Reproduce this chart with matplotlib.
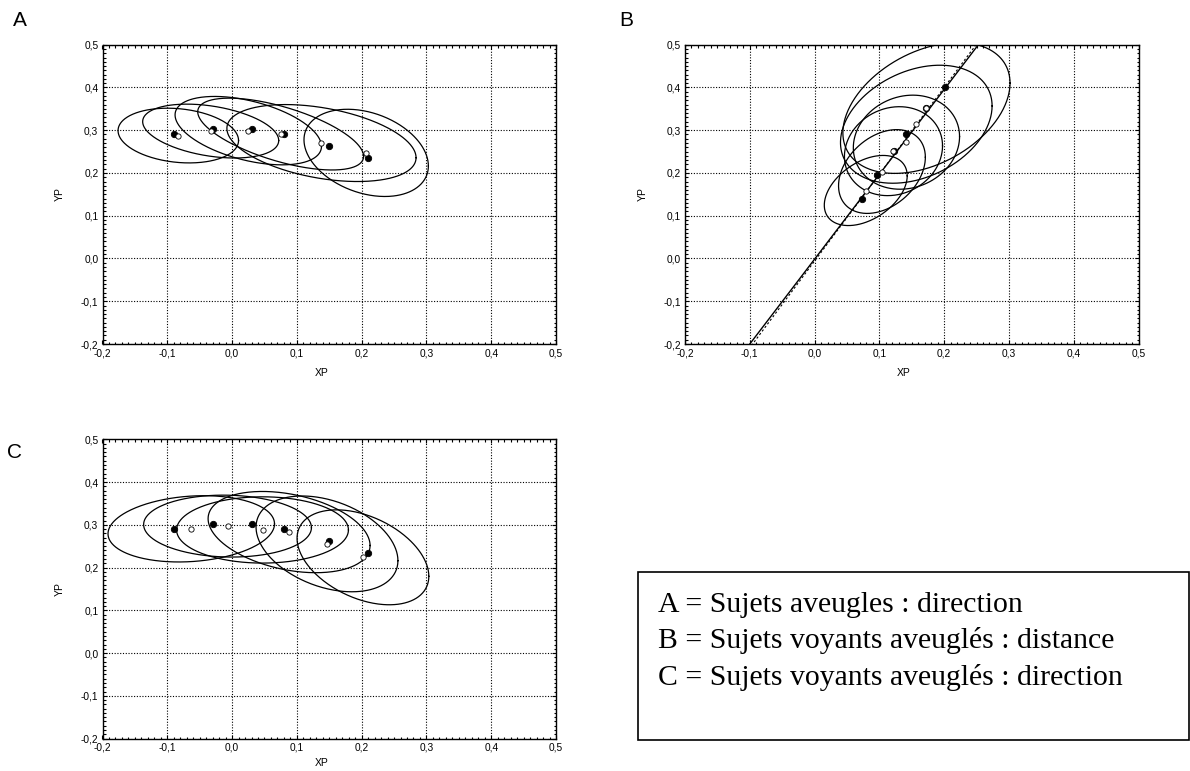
import matplotlib
matplotlib.use("Agg")
import matplotlib.pyplot as plt
import numpy as np
from matplotlib.ticker import MultipleLocator, FuncFormatter
from matplotlib.patches import Rectangle

plt.rcParams['font.family'] = ['Liberation Sans', 'DejaVu Sans']

# ---- data ----
# Panel A : blind subjects, direction
a_black_x = [-0.090, -0.030, 0.030, 0.080, 0.150, 0.210]
a_black_y = [0.291, 0.302, 0.302, 0.290, 0.262, 0.235]
a_white_x = [-0.083, -0.033, 0.025, 0.075, 0.138, 0.207]
a_white_y = [0.2875, 0.298, 0.299, 0.291, 0.270, 0.247]
a_sx = [0.093, 0.105, 0.113, 0.128, 0.146, 0.096]
a_sy = [0.064, 0.063, 0.080, 0.084, 0.090, 0.102]
a_rho = [-0.18, -0.35, -0.46, -0.62, -0.38, -0.30]

# Panel B : blindfolded sighted subjects, distance
b_black_x = [0.0725, 0.096, 0.122, 0.1418, 0.1727, 0.202]
b_black_y = [0.140, 0.1956, 0.251, 0.2914, 0.352, 0.4005]
b_white_x = [0.079, 0.104, 0.1218, 0.1418, 0.157, 0.1727]
b_white_y = [0.159, 0.2034, 0.251, 0.272, 0.314, 0.352]
b_sx = [0.064, 0.067, 0.0757, 0.082, 0.117, 0.129]
b_sy = [0.082, 0.098, 0.104, 0.110, 0.138, 0.153]
b_rho = [0.42, 0.34, 0.12, 0.12, 0.31, 0.38]
# regression lines (slope, intercept): solid, dashed
b_line_slope = [1.984, 2.03]
b_line_icpt = [-0.0016, -0.006]

# Panel C : blindfolded sighted subjects, direction
c_black_x = [-0.090, -0.030, 0.031, 0.080, 0.1495, 0.210]
c_black_y = [0.291, 0.301, 0.301, 0.291, 0.261, 0.235]
c_white_x = [-0.063, -0.007, 0.047, 0.088, 0.1465, 0.202]
c_white_y = [0.2906, 0.297, 0.288, 0.283, 0.2554, 0.224]
c_sx = [0.1285, 0.1295, 0.1326, 0.125, 0.1095, 0.1017]
c_sy = [0.0775, 0.0724, 0.0775, 0.095, 0.112, 0.111]
c_rho = [0.15, -0.05, 0.0, -0.33, -0.35, -0.40]

legend_lines = ["A = Sujets aveugles : direction",
                "B = Sujets voyants aveuglés : distance",
                "C = Sujets voyants aveuglés : direction"]

W, H = 1190, 771
fig = plt.figure(figsize=(W / 100, H / 100), dpi=100, facecolor='white')


def comma(v, pos):
    return ("%.1f" % v).replace('.', ',')


def setup_axes(left_px, top_px, xlab_y=-0.08):
    ax = fig.add_axes([left_px / W, 1 - (top_px + 299.3) / H, 453.5 / W, 299.3 / H])
    ax.set_xlim(-0.2, 0.5)
    ax.set_ylim(-0.2, 0.5)
    ax.xaxis.set_major_locator(MultipleLocator(0.1))
    ax.yaxis.set_major_locator(MultipleLocator(0.1))
    ax.xaxis.set_minor_locator(MultipleLocator(0.01))
    ax.yaxis.set_minor_locator(MultipleLocator(0.01))
    ax.xaxis.set_major_formatter(FuncFormatter(comma))
    ax.yaxis.set_major_formatter(FuncFormatter(comma))
    ax.tick_params(which='both', direction='in', top=True, right=True,
                   labelsize=7.3, pad=3, width=0.8)
    ax.tick_params(which='major', length=3)
    ax.tick_params(which='minor', length=1.8)
    ax.grid(True, which='major', color='black', linestyle=(0, (1, 1.5)), linewidth=0.8)
    for s in ax.spines.values():
        s.set_linewidth(1.0)
    ax.set_xlabel('XP', fontsize=7.5)
    ax.set_ylabel('YP', fontsize=7.5)
    ax.xaxis.set_label_coords(0.483, xlab_y)
    ax.yaxis.set_label_coords(-0.083, 0.5)
    return ax


def draw_ellipses(ax, cx, cy, sx, sy, rho):
    t = np.linspace(0, 2 * np.pi, 400)
    for x0, y0, a, b, r in zip(cx, cy, sx, sy, rho):
        phi = np.arccos(r)
        ax.plot(x0 + a * np.cos(t), y0 + b * np.cos(t - phi),
                color='black', linewidth=0.9, zorder=3)


def draw_points(ax, bx, by, wx, wy):
    ax.plot(bx, by, 'o', ms=4.6, mfc='black', mec='black', mew=0.6, zorder=4)
    ax.plot(wx, wy, 'o', ms=3.8, mfc='white', mec='black', mew=0.6, zorder=5)


axA = setup_axes(102.5, 44.7)
draw_ellipses(axA, a_white_x, a_white_y, a_sx, a_sy, a_rho)
draw_points(axA, a_black_x, a_black_y, a_white_x, a_white_y)

axB = setup_axes(685.0, 44.7)
xs = np.array([-0.2, 0.5])
axB.plot(xs, b_line_slope[0] * xs + b_line_icpt[0], color='black', linewidth=1.0, zorder=3)
axB.plot(xs, b_line_slope[1] * xs + b_line_icpt[1], color='black', linewidth=0.8,
         linestyle=(0, (2, 2)), zorder=3)
draw_ellipses(axB, b_white_x, b_white_y, b_sx, b_sy, b_rho)
draw_points(axB, b_black_x, b_black_y, b_white_x, b_white_y)

axC = setup_axes(102.5, 439.3, xlab_y=-0.066)
draw_ellipses(axC, c_white_x, c_white_y, c_sx, c_sy, c_rho)
draw_points(axC, c_black_x, c_black_y, c_white_x, c_white_y)

# panel letters
fig.text(20 / W, 1 - 21 / H, 'A', fontsize=15, ha='center', va='center')
fig.text(626 / W, 1 - 20 / H, 'B', fontsize=15, ha='center', va='center')
fig.text(15 / W, 1 - 452 / H, 'C', fontsize=15, ha='center', va='center')

# legend box
fig.patches.append(Rectangle((638 / W, 1 - 740 / H), (1189 - 638) / W, (740 - 571.7) / H,
                             transform=fig.transFigure, fill=False,
                             edgecolor='black', linewidth=1.2))
for i, line in enumerate(legend_lines):
    fig.text(658 / W, 1 - (611.7 + 36.7 * i) / H, line, fontsize=21.4,
             family=['Liberation Serif', 'DejaVu Serif'], ha='left', va='baseline')

fig.savefig('out.png', dpi=100, facecolor='white')
